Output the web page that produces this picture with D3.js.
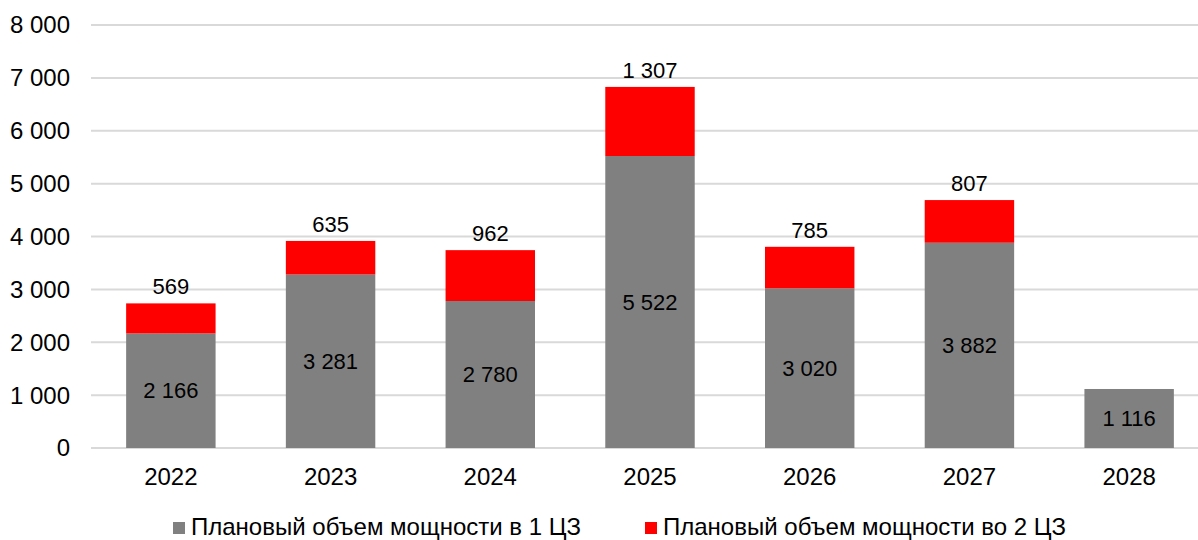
<!DOCTYPE html>
<html>
<head>
<meta charset="utf-8">
<script src="https://cdn.jsdelivr.net/npm/d3@7"></script>
<style>
  body { margin: 0; background: #fff; }
  svg { display: block; font-family: "Liberation Sans", Arial, sans-serif; }
</style>
</head>
<body>
<svg id="chart" width="1198" height="540"></svg>
<script>
var years = ["2022", "2023", "2024", "2025", "2026", "2027", "2028"];
var zone1 = [2166, 3281, 2780, 5522, 3020, 3882, 1116];
var zone2 = [569, 635, 962, 1307, 785, 807, null];
var yTicks = [0, 1000, 2000, 3000, 4000, 5000, 6000, 7000, 8000];
var seriesNames = ["Плановый объем мощности в 1 ЦЗ", "Плановый объем мощности во 2 ЦЗ"];
var colors = ["#808080", "#ff0000"];

var svg = d3.select("#chart");
var fmt = function(v) { return d3.format(",")(v).replace(/,/g, " "); };

var x = d3.scaleBand().domain(years).range([91, 1209]).paddingInner(0.44).paddingOuter(0.22);
var y = d3.scaleLinear().domain([0, 8000]).range([448, 25]);

// grid
svg.append("g").selectAll("line").data(yTicks).enter().append("line")
  .attr("x1", 91).attr("x2", 1198)
  .attr("y1", function(d) { return y(d); }).attr("y2", function(d) { return y(d); })
  .attr("stroke", "#d9d9d9").attr("stroke-width", 2);

// y labels
svg.append("g").selectAll("text").data(yTicks).enter().append("text")
  .attr("x", 70).attr("y", function(d) { return y(d); })
  .attr("dy", "0.35em").attr("text-anchor", "end")
  .attr("font-size", 24).attr("fill", "#000")
  .text(fmt);

// x labels
svg.append("g").selectAll("text").data(years).enter().append("text")
  .attr("x", function(d) { return x(d) + x.bandwidth() / 2; }).attr("y", 485)
  .attr("text-anchor", "middle").attr("font-size", 24).attr("fill", "#000")
  .text(function(d) { return d; });

var rows = years.map(function(yr, i) { return { year: yr, a: zone1[i], b: zone2[i] }; });

// bars zone 1
var bars = svg.append("g");
bars.selectAll("rect.z1").data(rows).enter().append("rect")
  .attr("class", "z1")
  .attr("x", function(d) { return x(d.year); }).attr("width", x.bandwidth())
  .attr("y", function(d) { return y(d.a); })
  .attr("height", function(d) { return y(0) - y(d.a); })
  .attr("fill", colors[0]);

// bars zone 2
bars.selectAll("rect.z2").data(rows.filter(function(d) { return d.b != null; })).enter().append("rect")
  .attr("class", "z2")
  .attr("x", function(d) { return x(d.year); }).attr("width", x.bandwidth())
  .attr("y", function(d) { return y(d.a + d.b); })
  .attr("height", function(d) { return y(d.a) - y(d.a + d.b); })
  .attr("fill", colors[1]);

// labels
var labels = svg.append("g").attr("font-size", 22).attr("fill", "#000").attr("text-anchor", "middle");
labels.selectAll("text.l1").data(rows).enter().append("text")
  .attr("x", function(d) { return x(d.year) + x.bandwidth() / 2; })
  .attr("y", function(d) { return (y(0) + y(d.a)) / 2; })
  .attr("dy", "0.35em")
  .text(function(d) { return fmt(d.a); });
labels.selectAll("text.l2").data(rows.filter(function(d) { return d.b != null; })).enter().append("text")
  .attr("x", function(d) { return x(d.year) + x.bandwidth() / 2; })
  .attr("y", function(d) { return y(d.a + d.b) - 9; })
  .text(function(d) { return fmt(d.b); });

// legend
var legendX = [173, 645];
var legend = svg.append("g");
seriesNames.forEach(function(name, i) {
  legend.append("rect").attr("x", legendX[i]).attr("y", 522).attr("width", 12).attr("height", 12).attr("fill", colors[i]);
  legend.append("text").attr("x", legendX[i] + 18).attr("y", 535)
    .attr("font-size", 24).attr("fill", "#000").text(name);
});
</script>
</body>
</html>
